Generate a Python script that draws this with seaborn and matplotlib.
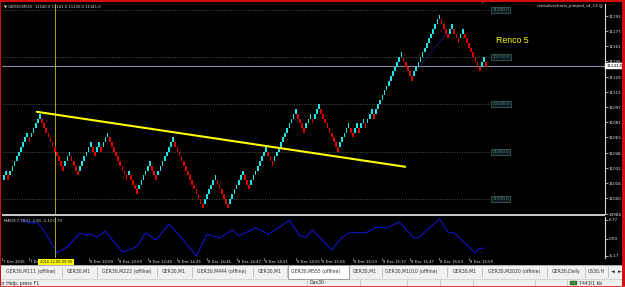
import matplotlib
matplotlib.use("Agg")
import matplotlib.pyplot as plt
import matplotlib.transforms as mtrans
from matplotlib.patches import Rectangle
from matplotlib.lines import Line2D
import seaborn as sns
import pandas as pd

# ---------------- data ----------------
brick_size = 5
brick_close = [
    11025, 11030, 11020,
    11030, 11035, 11040, 11045, 11050, 11055, 11060, 11065, 11070,
    11060,
    11070, 11075, 11080, 11085, 11090,
    11080, 11075, 11070, 11065, 11060, 11055, 11050, 11045, 11040, 11035, 11030,
    11040, 11045, 11050,
    11040, 11035, 11030, 11025,
    11035, 11040, 11045, 11050, 11055, 11060,
    11050, 11045,
    11055, 11060,
    11050,
    11060, 11065, 11070,
    11060, 11055, 11050, 11045, 11040, 11035, 11030, 11025, 11020,
    11030,
    11020, 11015, 11010, 11005,
    11015, 11020, 11025, 11030, 11035, 11040,
    11030, 11025, 11020,
    11030, 11035, 11040, 11045, 11050, 11055, 11060, 11065,
    11055, 11050, 11045, 11040, 11035, 11030, 11025, 11020, 11015, 11010, 11005, 11000, 10995, 10990,
    11000, 11005, 11010, 11015, 11020, 11025,
    11015, 11010, 11005, 11000, 10995, 10990,
    11000, 11005, 11010, 11015, 11020, 11025, 11030,
    11020, 11015, 11010,
    11020, 11025, 11030, 11035, 11040, 11045, 11050, 11055,
    11045, 11040, 11035,
    11045, 11050, 11055, 11060, 11065, 11070, 11075, 11080, 11085, 11090, 11095,
    11085, 11080, 11075, 11070,
    11080, 11085, 11090,
    11080,
    11090, 11095, 11100,
    11090, 11085, 11080, 11075, 11070, 11065, 11060, 11055, 11050,
    11060, 11065, 11070, 11075, 11080,
    11070, 11065,
    11075, 11080,
    11070,
    11080, 11085,
    11075,
    11085, 11090, 11095,
    11085,
    11095, 11100, 11105, 11110, 11115, 11120, 11125, 11130, 11135, 11140, 11145, 11150, 11155,
    11145, 11140, 11135, 11130, 11125,
    11135, 11140, 11145, 11150, 11155, 11160, 11165, 11170, 11175, 11180, 11185, 11190, 11195,
    11185, 11180, 11175, 11170,
    11180, 11185,
    11175, 11170, 11165,
    11175, 11180,
    11170, 11165, 11160, 11155, 11150, 11145, 11140, 11135,
    11145, 11150,
    11140,
]

macd_bar = [8, 12, 16, 18, 24, 25, 30, 36, 38, 41, 44, 48, 52, 56, 60, 63, 67, 72, 78, 84, 91,
            96, 102, 108, 111, 119, 125, 129, 135, 140, 143, 146, 155, 160, 164, 169, 172, 176,
            181, 187, 194, 196, 206, 210, 213, 223, 224, 227]
macd_val = [7.1, 5.7, 5.7, 3.9, -3.3, -5.1, -2.9, 2.1, 1.4, 1.7, 0.6, 2.8, -1.1, -4.7, -3.7,
            -2.6, 2.1, -0.4, 5.3, 0.3, -6.2, 1.7, 0.3, 3.2, 1.0, 3.9, 1.7, 3.5, 6.7, 1.0, 0.6,
            3.2, -4.0, 0.6, 2.4, 2.1, 2.4, 4.2, 3.9, 6.0, 0.3, 0.3, 7.1, 2.4, 2.1, -5.1, -3.7,
            -3.3]

level_prices = [11200.0, 11150.0, 11100.0, 11050.0, 11000.0]
price_ticks = [11193.5, 11177.5, 11161.5, 11145.5, 11129.0, 11113.0, 11097.0, 11081.0,
               11065.0, 11048.5, 11032.5, 11016.5, 11000.5, 10984.0]
macd_ticks = [6.77, 0.00, -6.17]
bid_price = 11141.0
trend_bar = [15.5, 189.8]
trend_price = [11092.2, 11034.0]
path_bar = [196, 209.6]
path_price = [11138.7, 11175.7]
cross_bar = 24.0

time_labels = ["7 Dec 2016", "7 Dec 19:00", "8 Dec 10:09", "8 Dec 10:59", "8 Dec 12:44",
               "8 Dec 14:45", "8 Dec 14:46", "8 Dec 14:47", "8 Dec 14:51", "8 Dec 14:55",
               "8 Dec 15:04", "8 Dec 15:23", "8 Dec 15:37", "8 Dec 15:47", "8 Dec 15:53",
               "8 Dec 15:59"]
time_bars = [-1, 12, 40, 54, 68, 82, 96, 110, 123, 138, 150, 165, 179, 192, 206, 220]
cross_time = "2016.12.08 09:05"

tab_labels = ["GER30,M111 (offline)", "GER30,M1", "GER30,M222 (offline)", "GER30,M1",
              "GER30,M444 (offline)", "GER30,M1", "GER30,M555 (offline)", "GER30,M1",
              "GER30,M1010 (offline)", "GER30,M1", "GER30,M2020 (offline)", "GER30,Daily",
              "US30,H"]
header_text = "\u25bc GER30,M555  11140.0 11141.0 11135.0 11141.0"
macd_text = "MACD(7,18,5) -2.81 -1.12 0.79"

# ---------------- build table ----------------
rows = []
prev = None
for i, c in enumerate(brick_close):
    up = True if prev is None else c > prev
    rows.append({"bar": i, "close": c, "up": up,
                 "low": c - brick_size if up else c})
    prev = c
df = pd.DataFrame(rows)

# ---------------- figure ----------------
sns.set_theme(style="dark")
plt.rcParams["font.family"] = ["DejaVu Sans"]

W, H = 625, 287
fig = plt.figure(figsize=(6.25, 2.87), dpi=100)
fig.patch.set_facecolor("#f0f0f0")
renderer = fig.canvas.get_renderer()


def fx(px):
    return px / W


def fy(py):
    return 1 - py / H


def frect(x0, y0, x1, y1, **kw):
    fig.patches.append(Rectangle((fx(x0), fy(y1)), (x1 - x0) / W, (y1 - y0) / H,
                                 transform=fig.transFigure, **kw))


def fline(x0, y0, x1, y1, **kw):
    fig.lines.append(Line2D([fx(x0), fx(x1)], [fy(y0), fy(y1)], transform=fig.transFigure, **kw))


def fit(t, width):
    """shrink/grow text so its rendered width is `width` pixels"""
    for _ in range(2):
        w = t.get_window_extent(renderer=renderer).width
        if w > 0:
            t.set_fontsize(t.get_fontsize() * width / w)
    return t


def ftext(px, py, s, width=None, **kw):
    t = fig.text(fx(px), fy(py), s, **kw)
    if width:
        fit(t, width)
    return t


# black chart window
frect(1, 1, 622, 265, facecolor="black", edgecolor="none", zorder=-5)

N = len(df)
x_first, x_last = 4, 486
s = (x_last - x_first) / (N - 1)
xlim = (-(x_first - 2) / s, (605 - x_first) / s)

# main axes
ax = fig.add_axes([fx(2), fy(214), 603 / W, 210 / H])
ax.set_facecolor("black")
ax.set_xlim(*xlim)
ymin = 11200 - (214 - 10) * 50 / 47.3
ymax = 11200 + (10 - 4) * 50 / 47.3
ax.set_ylim(ymin, ymax)

colors = ["#22e3e3" if u else "#e00000" for u in df["up"]]
ax.bar(df["bar"], brick_size, bottom=df["low"], width=0.8, color=colors, linewidth=0, zorder=3)

# level lines with labels
lvl_end = (491 - x_first) / s
for lv in level_prices:
    ax.hlines(lv, xlim[0], lvl_end, colors="#3d5a4c", linestyles=(0, (1, 1.5)), lw=0.7, zorder=1)
    t = ax.text(lvl_end + 0.6, lv, f"{lv:.1f}", color="#5e8080", fontsize=4.2, va="center",
                ha="left", zorder=5,
                bbox=dict(boxstyle="square,pad=0.25", fc="#0c1c1c", ec="#3c5a5a", lw=0.6))
    fit(t, 17)

# bid line
ax.axhline(bid_price, color="#8a8aa6", lw=0.8, zorder=2)
# crosshair vertical
ax.axvline(cross_bar, color="#a8a818", lw=0.7, zorder=2)

# trend line and path
sns.lineplot(x=trend_bar, y=trend_price, ax=ax, color="#ffff00", lw=1.5, zorder=6)
sns.lineplot(x=path_bar, y=path_price, ax=ax, color="#2a2ab0", lw=0.7, ls=(0, (1, 1)), zorder=6)

ax.grid(False)
for sp in ["left", "top", "bottom"]:
    ax.spines[sp].set_visible(False)
ax.spines["right"].set_color("#d8d8d8")
ax.spines["right"].set_linewidth(0.8)
ax.yaxis.tick_right()
ax.set_yticks(price_ticks)
ax.set_yticklabels([f"{v:.1f}" for v in price_ticks])
ax.tick_params(axis="y", colors="#e8e8e8", labelsize=2.95, length=2, width=0.5, pad=0.5,
               labelcolor="#e8e8e8", right=True)
ax.set_xticks([])
ax.set_xlabel("")
ax.set_ylabel("")

bt = mtrans.blended_transform_factory(ax.transAxes, ax.transData)
ax.text(1.002, bid_price, f"{bid_price:.1f}", transform=bt, fontsize=2.95, color="black",
        va="center", ha="left", zorder=8,
        bbox=dict(boxstyle="square,pad=0.2", fc="white", ec="white", lw=0.3), clip_on=False)

# MACD axes
mx = fig.add_axes([fx(2), fy(258), 603 / W, 41 / H])
mx.set_facecolor("black")
mx.set_xlim(*xlim)
mx.set_ylim((238.8 - 258) * 0.359, (238.8 - 217) * 0.359)
sns.lineplot(x=macd_bar, y=macd_val, ax=mx, color="#1414c8", lw=0.8)
mx.axvline(cross_bar, color="#a8a818", lw=0.7, zorder=2)
mx.grid(False)
for sp in ["left", "top", "bottom"]:
    mx.spines[sp].set_visible(False)
mx.spines["right"].set_color("#d8d8d8")
mx.spines["right"].set_linewidth(0.8)
mx.yaxis.tick_right()
mx.set_yticks(macd_ticks)
mx.set_yticklabels([f"{v:.2f}" for v in macd_ticks])
mx.tick_params(axis="y", colors="#e8e8e8", labelsize=2.95, length=2, width=0.5, pad=0.5,
               labelcolor="#e8e8e8")
mx.set_xticks([])
mx.set_xlabel("")
mx.set_ylabel("")
mt = mx.text(0.003, 0.95, macd_text, transform=mx.transAxes, fontsize=3.8, color="#e0e0e0",
             va="top", ha="left")
fit(mt, 58)

# separator between panels
frect(2, 213.6, 604.5, 216.4, facecolor="#c4c4c4", edgecolor="none", zorder=5)

# time axis labels (uniform font size)
probe = fig.text(0, 0, time_labels[2], fontsize=3.8)
fit(probe, 23)
tfs = probe.get_fontsize()
probe.remove()
for lab, b in zip(time_labels, time_bars):
    px = x_first + b * s
    ftext(px + 1, 262, lab, fontsize=tfs, color="#e8e8e8", va="center", ha="left")
    fline(px, 258, px, 260, color="#e8e8e8", lw=0.4)
frect(38, 258.5, 74, 265, facecolor="#ffff00", edgecolor="none", zorder=6)
ftext(56, 262, cross_time, width=33, fontsize=3.8, color="black", va="center", ha="center",
      zorder=7)

# header texts
ftext(4, 6, header_text, width=96, fontsize=3.8, color="#e0e0e0", va="center", ha="left")
ftext(537, 6, "renkolivecharts_pimped_v4_13 \u263a", width=67, fontsize=3.8, color="#e0e0e0",
      va="center", ha="left")
ftext(496, 41, "Renco 5", width=33, fontsize=6.5, color="#ffff00", va="center", ha="left",
      family=["Liberation Sans", "DejaVu Sans"])
ftext(483, 2.5, "\u25bc", fontsize=3, color="#909090", va="center", ha="center")

# tab strip (uniform font size)
frect(1, 265, 622, 279, facecolor="#f0f0f0", edgecolor="none", zorder=1)
fline(1, 265.3, 622, 265.3, color="#a0a0a0", lw=0.6)
probe = fig.text(0, 0, tab_labels[0], fontsize=4.3)
fit(probe, 50)
tabfs = probe.get_fontsize()
probe.remove()
tab_x = [6, 67, 102, 162, 197, 258, 291, 353, 385, 453, 488, 552, 588]
tab_sep = [62, 97, 157, 192, 253, 287, 349, 382, 447, 482, 547, 585, 608]
frect(288, 265, 349, 278.5, facecolor="white", edgecolor="#808080", lw=0.5, zorder=2)
for lab, x, sp in zip(tab_labels, tab_x, tab_sep):
    ftext(x, 271.5, lab, fontsize=tabfs, color="#303030", va="center", ha="left", zorder=3)
    fline(sp, 267, sp, 277, color="#b0b0b0", lw=0.5)
frect(608.5, 266, 622, 278, facecolor="#f0f0f0", edgecolor="none", zorder=4)
ftext(613, 271.5, "\u25c4", fontsize=3.5, color="#202020", va="center", ha="center", zorder=5)
ftext(619.5, 271.5, "\u25ba", fontsize=3.5, color="#202020", va="center", ha="center", zorder=5)

# status bar
fline(1, 279, 622, 279, color="#c8c8c8", lw=0.5)
ftext(0, 283, "or Help, press F1", fontsize=tabfs, color="#202020", va="center", ha="left")
ftext(310, 283, "Dax30", fontsize=tabfs, color="#202020", va="center", ha="left")
ftext(579, 283, "7443/1 kb", fontsize=tabfs, color="#202020", va="center", ha="left")
frect(570, 280.5, 577, 285, facecolor="#3a8a3a", edgecolor="#205020", lw=0.3)
for sp in [307, 360, 407, 440, 473, 535, 567]:
    fline(sp, 280, sp, 286, color="#b8b8b8", lw=0.5)

# red frame
frect(0, 0, 625, 1.5, facecolor="#d01010", edgecolor="none", zorder=10)
frect(0, 0, 1.4, 287, facecolor="#d01010", edgecolor="none", zorder=10)
frect(622, 0, 625, 287, facecolor="#d01010", edgecolor="none", zorder=10)
frect(0, 285.6, 625, 287, facecolor="#e04040", edgecolor="none", zorder=10)

fig.savefig("out.png", dpi=100, facecolor=fig.get_facecolor())
